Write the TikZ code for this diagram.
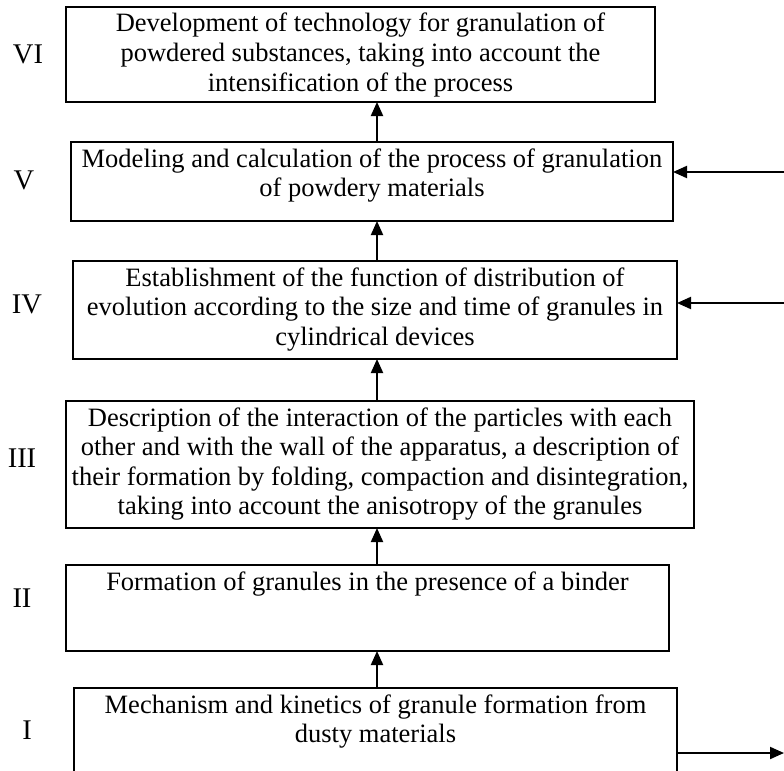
\documentclass[tikz,border=0pt]{standalone}
\usepackage{fontspec}
\setmainfont{Liberation Serif}
\usetikzlibrary{arrows.meta}
\newcommand{\bxtext}[3]{\parbox[c][#2][t]{#1}{\centering\fontsize{26.5bp}{29.5bp}\selectfont\rule{0pt}{25bp}#3\par}}
\tikzset{
  stepbox/.style={draw, line width=1.5bp, inner sep=0pt, outer sep=0pt},
  lab/.style={inner sep=0pt, font=\fontsize{28.5bp}{30bp}\selectfont},
  arr/.style={line width=2bp, -{Triangle[length=14bp,width=12bp]}}
}
\begin{document}
\begin{tikzpicture}[x=1bp,y=-1bp]
\useasboundingbox (0,0) rectangle (784,771);
\clip (0,0) rectangle (784,771);
\fill[white] (0,0) rectangle (784,771);
% boxes
\node[stepbox] (n6) at (360.5,54.5) {\bxtext{589bp}{95bp}{Development of technology for granulation of\\ powdered substances, taking into account the\\ intensification of the process}};
\node[stepbox] (n5) at (372,181.5) {\bxtext{602bp}{79bp}{Modeling and calculation of the process of granulation\\ of powdery materials}};
\node[stepbox] (n4) at (375,310) {\bxtext{604bp}{98bp}{Establishment of the function of distribution of\\ evolution according to the size and time of granules in\\ cylindrical devices}};
\node[stepbox] (n3) at (380,464.5) {\bxtext{628bp}{127bp}{Description of the interaction of the particles with each\\ other and with the wall of the apparatus, a description of\\ their formation by folding, compaction and disintegration,\\ taking into account the anisotropy of the granules}};
\node[stepbox] (n2) at (367.5,608) {\bxtext{603bp}{86bp}{Formation of granules in the presence of a binder}};
\node[stepbox] (n1) at (375.5,740) {\bxtext{603bp}{104bp}{Mechanism and kinetics of granule formation from\\ dusty materials}};
% labels
\node[lab] (l6) at (28,54) {VI};
\node[lab] (l5) at (24,180) {V};
\node[lab] (l4) at (27,304) {IV};
\node[lab] (l3) at (22,458) {III};
\node[lab] (l2) at (22,598) {II};
\node[lab] (l1) at (27,730) {I};
% connectors
\coordinate (ax) at (377,0);
\draw[arr] (n5.north -| ax) -- (n6.south -| ax);
\draw[arr] (n4.north -| ax) -- (n5.south -| ax);
\draw[arr] (n3.north -| ax) -- (n4.south -| ax);
\draw[arr] (n2.north -| ax) -- (n3.south -| ax);
\draw[arr] (n1.north -| ax) -- (n2.south -| ax);
\coordinate (r5) at (784,172);
\coordinate (r4) at (784,303);
\coordinate (r1) at (784,753);
\draw[arr] (r5) -- (n5.east |- r5);
\draw[arr] (r4) -- (n4.east |- r4);
\draw[arr] (n1.east |- r1) -- (r1);
\end{tikzpicture}
\end{document}
